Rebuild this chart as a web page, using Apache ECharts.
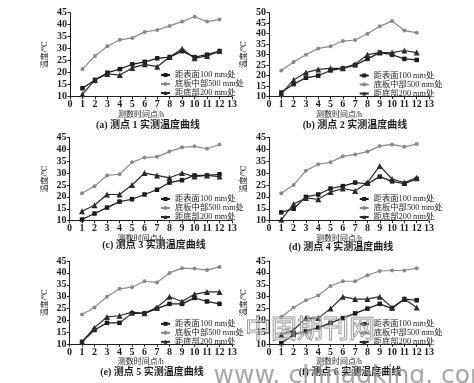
<!DOCTYPE html>
<html><head><meta charset="utf-8">
<script src="https://cdn.jsdelivr.net/npm/echarts@6/dist/echarts.min.js"></script>
<style>html,body{margin:0;padding:0;background:#fff}#c{width:474px;height:383px}</style>
</head><body><div id="c"></div>
<script>
const times = [1,2,3,4,5,6,7,8,9,10,11,12];
const seriesNames = ['距表面100 mm处','底板中部500 mm处','距底部200 mm处'];
const captions = ['(a) 测点 1 实测温度曲线','(b) 测点 2 实测温度曲线','(c) 测点 3 实测温度曲线','(d) 测点 4 实测温度曲线','(e) 测点 5 实测温度曲线','(f) 测点 6 实测温度曲线'];
const xTitle = '测数时间点/h';
const yTitle = '温度/℃';
const yMax = [45,50,45,45,45,45];

const p1_100 = [13.5,17,20,21.5,23.5,24.5,26,26.5,29,26.5,27.5,29];
const p1_500 = [21.5,27,31,33.7,34.5,37,37.8,39.5,41.3,43.3,41.3,42.2];
const p1_200 = [11,17,19.5,19,22,23.5,22.5,26.5,30,26,27,29];

const p2_100 = [12,16,19,20,22.5,23.5,25,28,31,30,28,27.5];
const p2_500 = [22.5,26.5,30,33,34,36.5,37,40,43.5,46,41.5,40.5];
const p2_200 = [11.5,18,21.5,23,23.5,23.5,25.5,30,31,31,32,31];

const p3_100 = [10.5,13,15.5,18,19,21,23,26,27,29,29,29.5];
const p3_500 = [21.5,24.5,29,29.5,34.5,36.5,36.8,39,40.8,41.2,40.2,42];
const p3_200 = [14,16.5,21,21,25,30,29,28,30,28.5,29,28.5];

const p4_100 = [13.5,15,20,21,23.5,24.5,26,25.5,28.5,26.5,25.5,27.5];
const p4_500 = [21.5,25,31,33.7,34.5,37,37.8,39,41.3,42,41,42.2];
const p4_200 = [10.5,17,19.5,19,22,23.5,22.5,26,33,27.5,26,28];

const p5_100 = [11,16,19,19,23,23,25,27,27,29.5,28,27];
const p5_500 = [22.5,25.5,30,33.3,34,36.5,36,40,42,41.8,41.2,42.5];
const p5_200 = [11,17,21.5,22,23.5,23,25.5,30,28,31,32,32];

const p6_100 = [10.5,14,15.5,17,19,21,23,25,27,25,29,28.5];
const p6_500 = [21.5,25.5,28.5,30.5,34.5,36.5,36.5,39,40.8,41,41,42];
const p6_200 = [14,16,21,21,25,30,29,29,30,25.5,29,25.5];

const panels = [[p1_100,p1_500,p1_200],[p2_100,p2_500,p2_200],[p3_100,p3_500,p3_200],[p4_100,p4_500,p4_200],[p5_100,p5_500,p5_200],[p6_100,p6_500,p6_200]];

// layout
const gridBoxes = [
  {left:70, top:12.7, width:162, height:84},
  {left:269, top:12.7, width:160, height:84},
  {left:69.5, top:137.3, width:162.5, height:83.4},
  {left:269, top:137.3, width:160, height:83.4},
  {left:69.5, top:261, width:162.5, height:83.3},
  {left:269, top:261, width:160, height:83.3}
];
const legendPos = [[160,70.5],[358.7,71],[160,194.5],[358.7,194.5],[160,319.3],[358.7,319.5]];
const captionPos = [[148,125],[355,125],[154,245],[341,247],[152,372.5],[350,372.5]];

const serif = '"Liberation Serif","DejaVu Serif","Noto Sans CJK SC",serif';
const ink = '#1e1e1e';
const styles = [
  {color:'#1a1a1a', symbol:'rect', size:4.5},
  {color:'#8a8a8a', symbol:'circle', size:4},
  {color:'#2a2a2a', symbol:'triangle', size:6}
];

const grid = [], xAxis = [], yAxis = [], series = [], legend = [], graphic = [];
panels.forEach((pd, i) => {
  grid.push(gridBoxes[i]);
  xAxis.push({
    type:'value', gridIndex:i, min:0, max:13, interval:1,
    name:xTitle, nameLocation:'middle', nameGap:11,
    nameTextStyle:{fontSize:8, color:ink, fontFamily:serif, padding:[0,20,0,0]},
    axisLine:{show:true, onZero:false, lineStyle:{color:ink, width:1}},
    axisTick:{show:true, length:2.5, lineStyle:{color:ink}},
    axisLabel:{fontSize:10, color:ink, fontFamily:serif, margin:3, fontWeight:'bold'},
    splitLine:{show:false}
  });
  yAxis.push({
    type:'value', gridIndex:i, min:10, max:yMax[i], interval:5,
    name:yTitle, nameLocation:'middle', nameGap:21, nameRotate:90,
    nameTextStyle:{fontSize:8, color:ink, fontFamily:serif},
    axisLine:{show:true, lineStyle:{color:ink, width:1}},
    axisTick:{show:true, length:2.5, lineStyle:{color:ink}},
    axisLabel:{fontSize:10, color:ink, fontFamily:serif, margin:3, fontWeight:'bold'},
    splitLine:{show:false}
  });
  pd.forEach((vals, k) => {
    const st = styles[k];
    series.push({
      type:'line', name:seriesNames[k], xAxisIndex:i, yAxisIndex:i,
      data: times.map((t, j) => [t, vals[j]]),
      symbol:st.symbol, symbolSize:st.size, showSymbol:true,
      lineStyle:{color:st.color, width:1.2},
      itemStyle:{color:st.color, borderWidth:0},
      animation:false, z: k===1 ? 2 : 3
    });
  });
  legend.push({
    orient:'vertical', left:legendPos[i][0], top:legendPos[i][1],
    itemWidth:9, itemHeight:5, itemGap:0, padding:0,
    data:seriesNames,
    textStyle:{fontSize:8.3, color:ink, fontFamily:serif, lineHeight:9},
    selectedMode:false
  });
  graphic.push({
    type:'text', x:captionPos[i][0], y:captionPos[i][1],
    style:{text:captions[i], fontSize:10, fontWeight:'bold', fill:ink, fontFamily:serif, align:'center', verticalAlign:'middle'}
  });
});
// watermark
graphic.push({
  type:'text', x:310, y:328, z:100,
  style:{text:'中国期刊网', fontSize:26, fill:'rgba(255,255,255,0.3)', stroke:'rgba(110,110,110,0.8)', lineWidth:1, fontFamily:'"Noto Sans CJK SC",sans-serif', align:'center', verticalAlign:'middle'}
});
graphic.push({
  type:'text', x:354, y:376, z:100,
  style:{text:'www. chinaqking. com', fontSize:25, fill:'rgba(150,150,150,0.85)', fontFamily:'"DejaVu Sans",sans-serif', align:'center', verticalAlign:'middle'}
});

const chart = echarts.init(document.getElementById('c'), null, {renderer:'canvas'});
chart.setOption({backgroundColor:'#fff', animation:false, grid, xAxis, yAxis, series, legend, graphic});
</script></body></html>
